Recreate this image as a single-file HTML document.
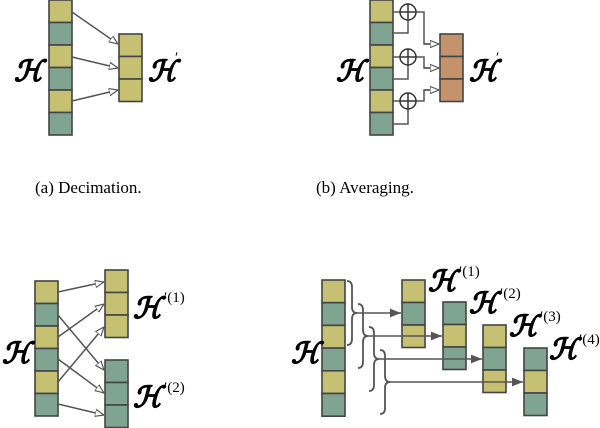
<!DOCTYPE html>
<html><head><meta charset="utf-8"><style>
html,body{margin:0;padding:0;background:#fff;}
svg{display:block;}
.h{font-family:"DejaVu Serif","Liberation Serif",serif;font-style:italic;font-weight:bold;font-size:29px;fill:#000;stroke:#000;stroke-width:0.5;}
.s{font-family:"Liberation Serif",serif;font-size:15px;fill:#000;}
.c{font-family:"Liberation Serif",serif;font-size:17px;fill:#000;}
</style></head><body>
<svg width="600" height="428" viewBox="0 0 600 428" xmlns="http://www.w3.org/2000/svg">
<defs>
<marker id="o" viewBox="0 0 10 10" refX="10" refY="5" markerWidth="9" markerHeight="9" orient="auto" markerUnits="userSpaceOnUse">
<path d="M0,1 L10,5 L0,9 Z" fill="#fff" stroke="#555" stroke-width="1.3"/></marker>
<marker id="f" viewBox="0 0 10 10" refX="10" refY="5" markerWidth="11" markerHeight="11" orient="auto" markerUnits="userSpaceOnUse">
<path d="M0,1 L10,5 L0,9 Z" fill="#555"/></marker>
</defs>
<g stroke="#444" stroke-width="1.6">
<rect x="49" y="0" width="23" height="22.5" fill="#c6c172"/>
<rect x="49" y="22.5" width="23" height="22.5" fill="#7fa592"/>
<rect x="49" y="45" width="23" height="22.5" fill="#c6c172"/>
<rect x="49" y="67.5" width="23" height="22.5" fill="#7fa592"/>
<rect x="49" y="90" width="23" height="22.5" fill="#c6c172"/>
<rect x="49" y="112.5" width="23" height="22.5" fill="#7fa592"/>
<rect x="119" y="34" width="23" height="22.5" fill="#c6c172"/>
<rect x="119" y="56.5" width="23" height="22.5" fill="#c6c172"/>
<rect x="119" y="79" width="23" height="22.5" fill="#c6c172"/>
<rect x="370" y="0" width="23" height="22.5" fill="#c6c172"/>
<rect x="370" y="22.5" width="23" height="22.5" fill="#7fa592"/>
<rect x="370" y="45" width="23" height="22.5" fill="#c6c172"/>
<rect x="370" y="67.5" width="23" height="22.5" fill="#7fa592"/>
<rect x="370" y="90" width="23" height="22.5" fill="#c6c172"/>
<rect x="370" y="112.5" width="23" height="22.5" fill="#7fa592"/>
<rect x="440" y="34" width="23" height="22.5" fill="#c4936c"/>
<rect x="440" y="56.5" width="23" height="22.5" fill="#c4936c"/>
<rect x="440" y="79" width="23" height="22.5" fill="#c4936c"/>
<rect x="35" y="281" width="23" height="22.5" fill="#c6c172"/>
<rect x="35" y="303.5" width="23" height="22.5" fill="#7fa592"/>
<rect x="35" y="326" width="23" height="22.5" fill="#c6c172"/>
<rect x="35" y="348.5" width="23" height="22.5" fill="#7fa592"/>
<rect x="35" y="371" width="23" height="22.5" fill="#c6c172"/>
<rect x="35" y="393.5" width="23" height="22.5" fill="#7fa592"/>
<rect x="105" y="270" width="23" height="22.5" fill="#c6c172"/>
<rect x="105" y="292.5" width="23" height="22.5" fill="#c6c172"/>
<rect x="105" y="315" width="23" height="22.5" fill="#c6c172"/>
<rect x="105" y="360" width="23" height="22.5" fill="#7fa592"/>
<rect x="105" y="382.5" width="23" height="22.5" fill="#7fa592"/>
<rect x="105" y="405" width="23" height="22.5" fill="#7fa592"/>
<rect x="322" y="280" width="23" height="22.7" fill="#c6c172"/>
<rect x="322" y="302.7" width="23" height="22.7" fill="#7fa592"/>
<rect x="322" y="325.4" width="23" height="22.7" fill="#c6c172"/>
<rect x="322" y="348.1" width="23" height="22.7" fill="#7fa592"/>
<rect x="322" y="370.8" width="23" height="22.7" fill="#c6c172"/>
<rect x="322" y="393.5" width="23" height="22.7" fill="#7fa592"/>
<rect x="402" y="280" width="23" height="22.5" fill="#c6c172"/>
<rect x="402" y="302.5" width="23" height="22.5" fill="#7fa592"/>
<rect x="402" y="325" width="23" height="22.5" fill="#c6c172"/>
<rect x="443" y="302" width="23" height="22.5" fill="#7fa592"/>
<rect x="443" y="324.5" width="23" height="22.5" fill="#c6c172"/>
<rect x="443" y="347" width="23" height="22.5" fill="#7fa592"/>
<rect x="483" y="325" width="23" height="22.5" fill="#c6c172"/>
<rect x="483" y="347.5" width="23" height="22.5" fill="#7fa592"/>
<rect x="483" y="370" width="23" height="22.5" fill="#c6c172"/>
<rect x="524" y="348" width="23" height="22.5" fill="#7fa592"/>
<rect x="524" y="370.5" width="23" height="22.5" fill="#c6c172"/>
<rect x="524" y="393" width="23" height="22.5" fill="#7fa592"/>
</g>
<g stroke="#555" stroke-width="1.5" fill="none">
<line x1="72" y1="12" x2="118" y2="44" marker-end="url(#o)"/>
<line x1="72" y1="57" x2="118" y2="68" marker-end="url(#o)"/>
<line x1="72" y1="101" x2="118" y2="90" marker-end="url(#o)"/>
<path d="M393,12 H400 M393,33 H408 V20 M416,12 H424 V44 H439" />
<path d="M393,57 H400 M393,79 H408 V65 M416,57 H424 V68 H439" />
<path d="M393,101 H400 M393,124 H408 V109 M416,101 H424 V90 H439" />
<line x1="424" y1="44" x2="439" y2="44" marker-end="url(#o)"/>
<line x1="424" y1="68" x2="439" y2="68" marker-end="url(#o)"/>
<line x1="424" y1="90" x2="439" y2="90" marker-end="url(#o)"/>
<g stroke="#333">
<circle cx="408" cy="12" r="8" fill="#fff"/><path d="M400,12H416M408,4V20"/>
<circle cx="408" cy="57" r="8" fill="#fff"/><path d="M400,57H416M408,49V65"/>
<circle cx="408" cy="101" r="8" fill="#fff"/><path d="M400,101H416M408,93V109"/>
</g>
<line x1="58" y1="292" x2="104" y2="282" marker-end="url(#o)"/>
<line x1="58" y1="337" x2="104" y2="304" marker-end="url(#o)"/>
<line x1="58" y1="382" x2="104" y2="327" marker-end="url(#o)"/>
<line x1="58" y1="315" x2="104" y2="370" marker-end="url(#o)"/>
<line x1="58" y1="359" x2="104" y2="393" marker-end="url(#o)"/>
<line x1="58" y1="404" x2="104" y2="415" marker-end="url(#o)"/>
<path d="M347,281 q5,0 5,6 v20 q0,6 5,6 q-5,0 -5,6 v20 q0,6 -5,6" stroke-width="1.8"/>
<path d="M358,304 q5,0 5,6 v20 q0,6 5,6 q-5,0 -5,6 v20 q0,6 -5,6" stroke-width="1.8"/>
<path d="M369,327 q5,0 5,6 v20 q0,6 5,6 q-5,0 -5,6 v20 q0,6 -5,6" stroke-width="1.8"/>
<path d="M380,350 q5,0 5,6 v20 q0,6 5,6 q-5,0 -5,6 v20 q0,6 -5,6" stroke-width="1.8"/>
<line x1="357" y1="313" x2="401" y2="313" marker-end="url(#f)"/>
<line x1="368" y1="336" x2="442" y2="336" marker-end="url(#f)"/>
<line x1="379" y1="359" x2="482" y2="359" marker-end="url(#f)"/>
<line x1="390" y1="382" x2="523" y2="382" marker-end="url(#f)"/>
</g>
<text class="h" x="14" y="81">ℋ</text>
<text class="h" x="148" y="81">ℋ</text><text class="s" x="175" y="62" font-size="11">′</text>
<text class="h" x="336" y="81">ℋ</text>
<text class="h" x="469" y="81">ℋ</text><text class="s" x="496" y="62" font-size="11">′</text>
<text class="c" x="35" y="193">(a) Decimation.</text>
<text class="c" x="316" y="193">(b) Averaging.</text>
<text class="h" x="2" y="363">ℋ</text>
<text class="h" x="133" y="318">ℋ</text><text class="s" x="164" y="302">′(1)</text>
<text class="h" x="133" y="407">ℋ</text><text class="s" x="164" y="392">′(2)</text>
<text class="h" x="291" y="363">ℋ</text>
<text class="h" x="428" y="291">ℋ</text><text class="s" x="459" y="276">′(1)</text>
<text class="h" x="469" y="313">ℋ</text><text class="s" x="500" y="298">′(2)</text>
<text class="h" x="509" y="336">ℋ</text><text class="s" x="540" y="321">′(3)</text>
<text class="h" x="549" y="359">ℋ</text><text class="s" x="579" y="344">′(4)</text>
</svg>
</body></html>
